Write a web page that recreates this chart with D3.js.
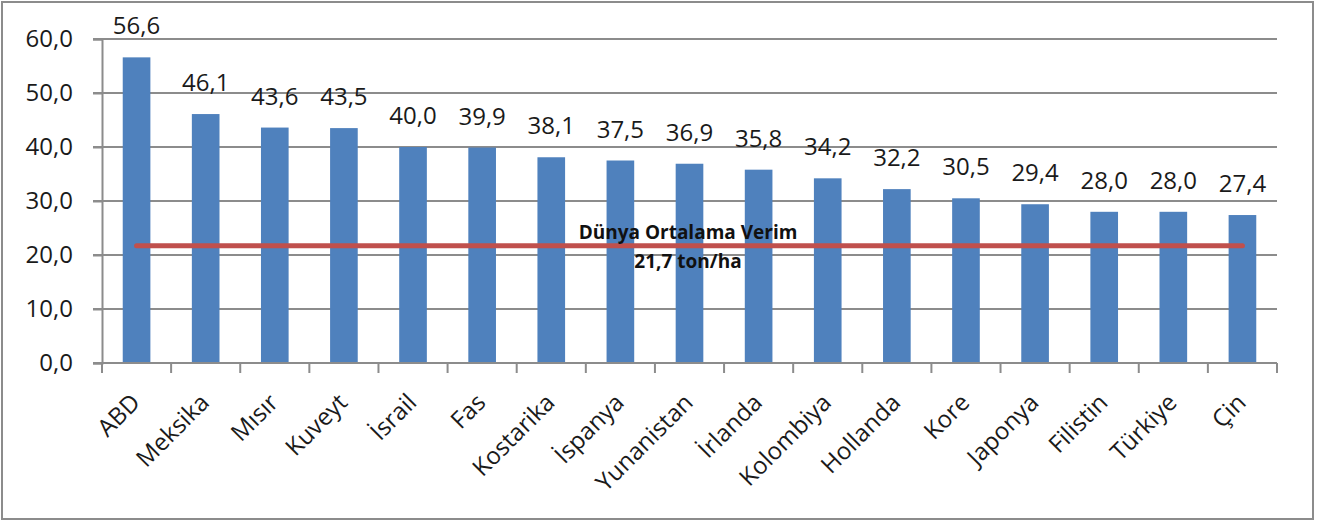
<!DOCTYPE html>
<html><head><meta charset="utf-8">
<script src="https://cdn.jsdelivr.net/npm/d3@7"></script>
<style>
html,body{margin:0;padding:0;background:#fff;}
svg{display:block;font-family:"Open Sans",sans-serif;}
</style></head>
<body>
<svg id="c" width="1323" height="522"></svg>
<script>
const categories = ["ABD","Meksika","Mısır","Kuveyt","İsrail","Fas","Kostarika","İspanya","Yunanistan","İrlanda","Kolombiya","Hollanda","Kore","Japonya","Filistin","Türkiye","Çin"];
const values = [56.6,46.1,43.6,43.5,40.0,39.9,38.1,37.5,36.9,35.8,34.2,32.2,30.5,29.4,28.0,28.0,27.4];
const yTicks = [0,10,20,30,40,50,60];
const worldAvg = 21.7;
const avgLabel = ["Dünya Ortalama Verim","21,7 ton/ha"];

const svg = d3.select("#c");
const W = 1323, H = 522;
const m = {left:102, right:1277, top:39, bottom:363};
const fmt = v => d3.format(".1f")(v).replace(".", ",");

svg.append("rect").attr("x",2).attr("y",2).attr("width",W-12).attr("height",H-5)
  .attr("fill","#fff").attr("stroke","#8c8c8c").attr("stroke-width",2);

const x = d3.scaleBand().domain(categories).range([m.left, m.right]).paddingInner(0.6).paddingOuter(0.3);
const xb = d3.scaleBand().domain(categories).range([m.left, m.right]);
const y = d3.scaleLinear().domain([0,60]).range([m.bottom, m.top]);

// gridlines
svg.append("g").selectAll("line").data(yTicks).join("line")
  .attr("x1", m.left-9).attr("x2", m.right)
  .attr("y1", d=>y(d)).attr("y2", d=>y(d))
  .attr("stroke","#8c8c8c").attr("stroke-width",2);

// y axis
const gy = svg.append("g").attr("transform",`translate(${m.left},0)`)
  .call(d3.axisLeft(y).tickValues(yTicks).tickFormat(fmt).tickSize(9).tickPadding(20));
gy.select(".domain").attr("stroke","#8c8c8c").attr("stroke-width",2);
gy.selectAll(".tick line").attr("stroke","#8c8c8c").attr("stroke-width",2);
gy.selectAll("text").attr("font-size",24).attr("fill","#1a1a1a").attr("font-family","Open Sans");

// bars
svg.append("g").selectAll("rect").data(values).join("rect")
  .attr("x",(d,i)=>x(categories[i])).attr("width",x.bandwidth())
  .attr("y",d=>y(d)).attr("height",d=>y(0)-y(d))
  .attr("fill","#4F81BD");

// x axis
const gx = svg.append("g").attr("transform",`translate(0,${m.bottom})`);
gx.append("line").attr("x1",m.left).attr("x2",m.right).attr("stroke","#8c8c8c").attr("stroke-width",2);
gx.selectAll("line.t").data(d3.range(categories.length+1)).join("line").attr("class","t")
  .attr("x1",i=>m.left+i*xb.step()).attr("x2",i=>m.left+i*xb.step())
  .attr("y1",0).attr("y2",10).attr("stroke","#8c8c8c").attr("stroke-width",2);
gx.selectAll("text").data(categories).join("text")
  .attr("transform",d=>`translate(${xb(d)+xb.bandwidth()/2+5},41) rotate(-45)`)
  .attr("text-anchor","end").attr("font-size",24).attr("fill","#1a1a1a").text(d=>d);

// value labels
svg.append("g").selectAll("text").data(values).join("text")
  .attr("x",(d,i)=>x(categories[i])+x.bandwidth()/2).attr("y",d=>y(d)-23)
  .attr("text-anchor","middle").attr("font-size",24).attr("fill","#1a1a1a").text(d=>fmt(d));

// average line
svg.append("line")
  .attr("x1", xb(categories[0])+xb.bandwidth()/2).attr("x2", xb(categories[categories.length-1])+xb.bandwidth()/2)
  .attr("y1", y(worldAvg)).attr("y2", y(worldAvg))
  .attr("stroke","#C0504D").attr("stroke-width",5).attr("stroke-linecap","round");

svg.append("g").selectAll("text").data(avgLabel).join("text")
  .attr("x",688).attr("y",(d,i)=> i===0 ? y(worldAvg)-7 : y(worldAvg)+22)
  .attr("text-anchor","middle").attr("font-size",19).attr("font-weight","bold").attr("fill","#111").text(d=>d);
</script>
</body></html>
